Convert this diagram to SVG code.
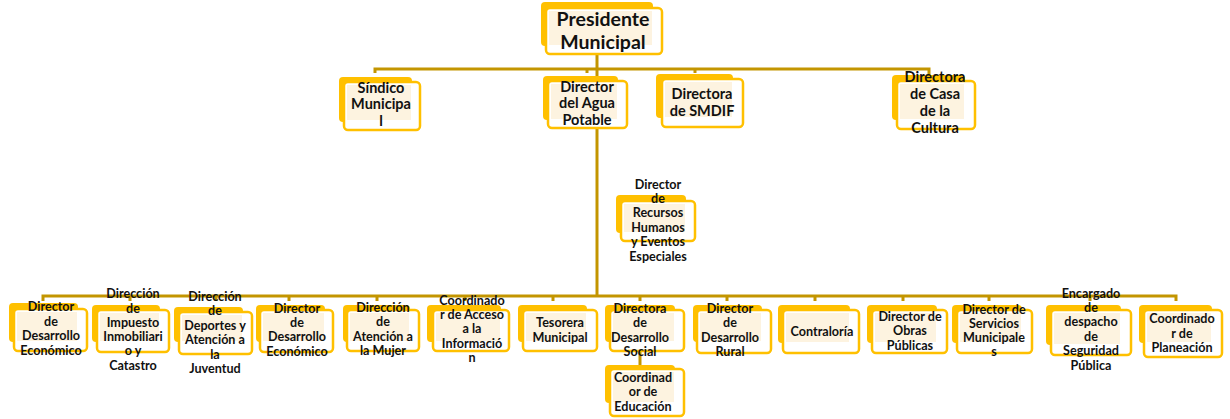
<svg xmlns="http://www.w3.org/2000/svg" width="1230" height="419" viewBox="0 0 1230 419">
<style>
.back{fill:#FFC000;}
.front{fill:#FFFFFF;stroke:#FFC000;stroke-width:2.5;}
.inner{fill:#FDF3E0;}
.t{font-family:Lato,"Liberation Sans",sans-serif;font-weight:bold;fill:#111;text-anchor:middle;}
.s19{font-size:19.5px;}
.s14{font-size:14.5px;}
.s12{font-size:12.6px;}
.conn{fill:none;stroke:#C39500;stroke-width:3;}
</style>
<rect width="1230" height="419" fill="#FFFFFF"/>
<g id="connectors">
<path class="conn" d="M597,55 V296"/>
<path class="conn" d="M375,73 V69 H929 V78"/>
<path class="conn" d="M587,73 V69"/>
<path class="conn" d="M695,73 V69"/>
<path class="conn" d="M43,301 V296 H1176 V301"/>
<path class="conn" d="M130,301 V296 M216,301 V296 M289,301 V296 M377,301 V296 M465,301 V296 M553,301 V296 M640,301 V296 M727,301 V296 M815,301 V296 M903,301 V296 M989,301 V296 M1090,301 V296"/>
<path class="conn" d="M640,351 V366"/>
</g>
<g id="presidente">
<rect class="back" x="541" y="2" width="112" height="44" rx="4"/>
<rect class="front" x="546" y="8" width="116" height="46" rx="4"/>
<rect class="inner" x="549" y="11" width="103" height="34"/>
<text class="t s19" x="603"><tspan x="603" y="26">Presidente</tspan><tspan x="603" y="49">Municipal</tspan></text>
</g>
<g id="sindico">
<rect class="back" x="339" y="77" width="73" height="45" rx="4"/>
<rect class="front" x="344" y="82" width="76" height="48" rx="4"/>
<rect class="inner" x="347" y="85" width="64" height="35"/>
<text class="t s14"><tspan x="381" y="93">Síndico</tspan><tspan x="381" y="109">Municipa</tspan><tspan x="381" y="126">l</tspan></text>
</g>
<g id="agua">
<rect class="back" x="543" y="76" width="75" height="44" rx="4"/>
<rect class="front" x="548" y="81" width="79" height="47" rx="4"/>
<rect class="inner" x="551" y="84" width="66" height="35"/>
<text class="t s14"><tspan x="587" y="92">Director</tspan><tspan x="587" y="108">del Agua</tspan><tspan x="587" y="125">Potable</tspan></text>
</g>
<g id="smdif">
<rect class="back" x="656" y="74" width="77" height="44" rx="4"/>
<rect class="front" x="662" y="79" width="81" height="48" rx="4"/>
<rect class="inner" x="665" y="82" width="67" height="35"/>
<text class="t s14"><tspan x="702" y="99">Directora</tspan><tspan x="702" y="116">de SMDIF</tspan></text>
</g>
<g id="cultura">
<rect class="back" x="892" y="75" width="73" height="45" rx="4"/>
<rect class="front" x="897" y="81" width="78" height="48" rx="4"/>
<rect class="inner" x="900" y="84" width="64" height="35"/>
<text class="t s14"><tspan x="935" y="82">Directora</tspan><tspan x="935" y="99">de Casa</tspan><tspan x="935" y="116">de la</tspan><tspan x="935" y="133">Cultura</tspan></text>
</g>
<g id="recursos-humanos">
<rect class="back" x="616" y="195" width="70" height="38" rx="4"/>
<rect class="front" x="621" y="201" width="74" height="40" rx="4"/>
<rect class="inner" x="624" y="204" width="61" height="28"/>
<text class="t s12"><tspan x="658" y="189">Director</tspan><tspan x="658" y="203">de</tspan><tspan x="658" y="217">Recursos</tspan><tspan x="658" y="232">Humanos</tspan><tspan x="658" y="246">y Eventos</tspan><tspan x="658" y="261">Especiales</tspan></text>
</g>
<g id="desarrollo-economico-1">
<rect class="back" x="9" y="303" width="69" height="39" rx="4"/>
<rect class="front" x="14" y="309" width="73" height="42" rx="4"/>
<rect class="inner" x="17" y="312" width="60" height="29"/>
<text class="t s12"><tspan x="51" y="311">Director</tspan><tspan x="51" y="326">de</tspan><tspan x="51" y="340">Desarrollo</tspan><tspan x="51" y="355">Económico</tspan></text>
</g>
<g id="impuesto">
<rect class="back" x="92" y="305" width="68" height="37" rx="4"/>
<rect class="front" x="97" y="310" width="72" height="42" rx="4"/>
<rect class="inner" x="100" y="313" width="59" height="28"/>
<text class="t s12"><tspan x="133" y="298">Dirección</tspan><tspan x="133" y="313">de</tspan><tspan x="133" y="327">Impuesto</tspan><tspan x="133" y="341">Inmobiliari</tspan><tspan x="133" y="355">o y</tspan><tspan x="133" y="370">Catastro</tspan></text>
</g>
<g id="deportes">
<rect class="back" x="174" y="307" width="69" height="35" rx="4"/>
<rect class="front" x="179" y="312" width="73" height="42" rx="4"/>
<rect class="inner" x="182" y="315" width="60" height="26"/>
<text class="t s12"><tspan x="215" y="301">Dirección</tspan><tspan x="215" y="315">de</tspan><tspan x="215" y="330">Deportes y</tspan><tspan x="215" y="344">Atención a</tspan><tspan x="215" y="359">la</tspan><tspan x="215" y="373">Juventud</tspan></text>
</g>
<g id="desarrollo-economico-2">
<rect class="back" x="256" y="305" width="69" height="37" rx="4"/>
<rect class="front" x="260" y="310" width="73" height="42" rx="4"/>
<rect class="inner" x="263" y="313" width="61" height="28"/>
<text class="t s12"><tspan x="297" y="313">Director</tspan><tspan x="297" y="327">de</tspan><tspan x="297" y="341">Desarrollo</tspan><tspan x="297" y="356">Económico</tspan></text>
</g>
<g id="mujer">
<rect class="back" x="343" y="305" width="67" height="37" rx="4"/>
<rect class="front" x="347" y="310" width="72" height="41" rx="4"/>
<rect class="inner" x="350" y="313" width="59" height="28"/>
<text class="t s12"><tspan x="383" y="312">Dirección</tspan><tspan x="383" y="326">de</tspan><tspan x="383" y="341">Atención a</tspan><tspan x="383" y="355">la Mujer</tspan></text>
</g>
<g id="acceso-informacion">
<rect class="back" x="427" y="305" width="74" height="37" rx="4"/>
<rect class="front" x="433" y="310" width="76" height="41" rx="4"/>
<rect class="inner" x="436" y="313" width="64" height="28"/>
<text class="t s12"><tspan x="472" y="305">Coordinado</tspan><tspan x="472" y="319">r de Acceso</tspan><tspan x="472" y="333">a la</tspan><tspan x="472" y="348">Informació</tspan><tspan x="472" y="362">n</tspan></text>
</g>
<g id="tesorera">
<rect class="back" x="518" y="305" width="69" height="37" rx="4"/>
<rect class="front" x="523" y="310" width="74" height="41" rx="4"/>
<rect class="inner" x="526" y="313" width="60" height="28"/>
<text class="t s12"><tspan x="560" y="327">Tesorera</tspan><tspan x="560" y="342">Municipal</tspan></text>
</g>
<g id="desarrollo-social">
<rect class="back" x="605" y="305" width="70" height="37" rx="4"/>
<rect class="front" x="610" y="310" width="74" height="41" rx="4"/>
<rect class="inner" x="613" y="313" width="61" height="28"/>
<text class="t s12"><tspan x="640" y="313">Directora</tspan><tspan x="640" y="327">de</tspan><tspan x="640" y="342">Desarrollo</tspan><tspan x="640" y="356">Social</tspan></text>
</g>
<g id="educacion">
<rect class="back" x="605" y="365" width="70" height="38" rx="4"/>
<rect class="front" x="610" y="369" width="74" height="47" rx="4"/>
<rect class="inner" x="613" y="372" width="61" height="30"/>
<text class="t s12"><tspan x="643" y="382">Coordinad</tspan><tspan x="643" y="396">or de</tspan><tspan x="643" y="411">Educación</tspan></text>
</g>
<g id="desarrollo-rural">
<rect class="back" x="693" y="305" width="69" height="37" rx="4"/>
<rect class="front" x="697" y="310" width="74" height="43" rx="4"/>
<rect class="inner" x="700" y="313" width="61" height="28"/>
<text class="t s12"><tspan x="730" y="313">Director</tspan><tspan x="730" y="327">de</tspan><tspan x="730" y="342">Desarrollo</tspan><tspan x="730" y="356">Rural</tspan></text>
</g>
<g id="contraloria">
<rect class="back" x="778" y="305" width="72" height="38" rx="4"/>
<rect class="front" x="783" y="310" width="76" height="43" rx="4"/>
<rect class="inner" x="786" y="313" width="63" height="29"/>
<text class="t s12"><tspan x="822" y="336">Contraloría</tspan></text>
</g>
<g id="obras-publicas">
<rect class="back" x="867" y="305" width="70" height="38" rx="4"/>
<rect class="front" x="872" y="310" width="75" height="43" rx="4"/>
<rect class="inner" x="875" y="313" width="61" height="29"/>
<text class="t s12"><tspan x="910" y="321">Director de</tspan><tspan x="910" y="335">Obras</tspan><tspan x="910" y="350">Públicas</tspan></text>
</g>
<g id="servicios-municipales">
<rect class="back" x="952" y="305" width="70" height="38" rx="4"/>
<rect class="front" x="957" y="310" width="75" height="43" rx="4"/>
<rect class="inner" x="960" y="313" width="61" height="29"/>
<text class="t s12"><tspan x="994" y="314">Director de</tspan><tspan x="994" y="328">Servicios</tspan><tspan x="994" y="342">Municipale</tspan><tspan x="994" y="356">s</tspan></text>
</g>
<g id="seguridad-publica">
<rect class="back" x="1046" y="305" width="75" height="40" rx="4"/>
<rect class="front" x="1051" y="310" width="80" height="45" rx="4"/>
<rect class="inner" x="1054" y="313" width="66" height="31"/>
<text class="t s12"><tspan x="1091" y="298">Encargado</tspan><tspan x="1091" y="312">de</tspan><tspan x="1091" y="326">despacho</tspan><tspan x="1091" y="341">de</tspan><tspan x="1091" y="355">Seguridad</tspan><tspan x="1091" y="370">Pública</tspan></text>
</g>
<g id="planeacion">
<rect class="back" x="1139" y="305" width="73" height="38" rx="4"/>
<rect class="front" x="1144" y="310" width="78" height="47" rx="4"/>
<rect class="inner" x="1147" y="313" width="64" height="29"/>
<text class="t s12"><tspan x="1182" y="323">Coordinado</tspan><tspan x="1182" y="338">r de</tspan><tspan x="1182" y="352">Planeación</tspan></text>
</g>
</svg>
